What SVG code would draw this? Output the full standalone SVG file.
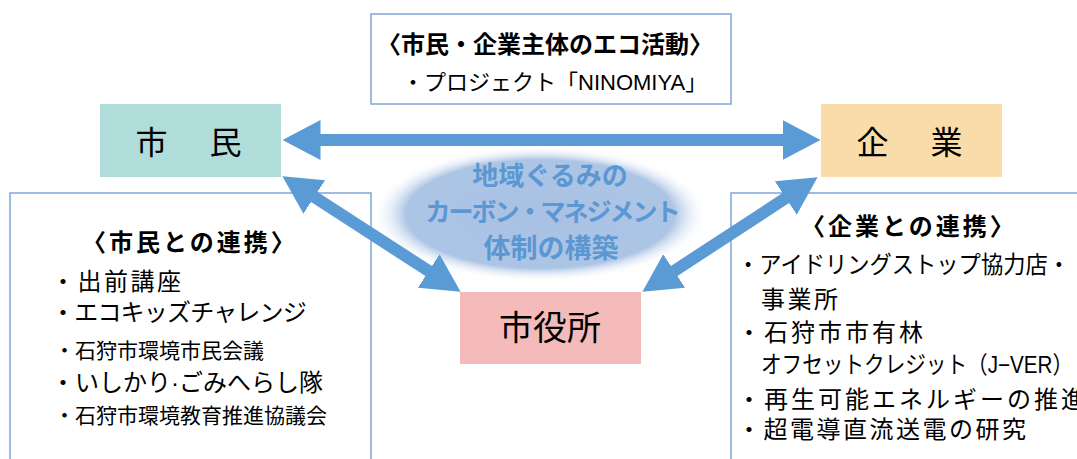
<svg xmlns="http://www.w3.org/2000/svg" width="1077" height="459" viewBox="0 0 1077 459">
<defs>
<style>
.frame{fill:none;stroke:#7fa6da;stroke-width:1.5}
.t{font-family:"Liberation Sans","Noto Sans CJK JP",sans-serif;fill:#000}
.b{font-weight:bold}
.glow{font-family:"Noto Sans CJK JP",sans-serif;font-weight:bold;fill:#5a97d3;text-anchor:middle}
.conn{stroke:#5b9bd5;stroke-width:12;fill:none;marker-start:url(#ah);marker-end:url(#ah)}
.node{font-family:"Noto Sans CJK JP",sans-serif;fill:#000;text-anchor:middle}
</style>
<marker id="ah" markerUnits="userSpaceOnUse" viewBox="0 0 38 40" markerWidth="38" markerHeight="40" refX="0.5" refY="20" orient="auto-start-reverse">
<path d="M0,0 L38,20 L0,40 Z" fill="#5b9bd5"/>
</marker>
<radialGradient id="g" cx="0.5" cy="0.5" r="0.5">
<stop offset="0" stop-color="#a8c0e3"/>
<stop offset="0.8" stop-color="#adc5e5"/>
<stop offset="1" stop-color="#ffffff" stop-opacity="0"/>
</radialGradient>
</defs>
<rect width="1077" height="459" fill="#fff"/>

<g id="box-eco">
<rect class="frame" x="371" y="14" width="360" height="90"/>
<text class="t b" x="545" y="53" font-size="24" text-anchor="middle" font-family="Noto Sans CJK JP, sans-serif">〈市民・企業主体のエコ活動〉</text>
<text class="t" x="402" y="90" font-size="22">・プロジェクト「NINOMIYA」</text>
</g>

<g id="box-citizen-links">
<path class="frame" d="M10,460 V193 H371 V460"/>
<text class="t b" x="190" y="251" font-size="24" letter-spacing="3" text-anchor="middle">〈市民との連携〉</text>
<text class="t" x="51" y="290" font-size="24" letter-spacing="2.5">・出前講座</text>
<text class="t" x="51" y="321" font-size="24" letter-spacing="-0.8">・エコキッズチャレンジ</text>
<text class="t" x="54" y="358" font-size="21">・石狩市環境市民会議</text>
<text class="t" x="51" y="391" font-size="24">・いしかり·ごみへらし隊</text>
<text class="t" x="54" y="423" font-size="21">・石狩市環境教育推進協議会</text>
</g>

<g id="box-company-links">
<path class="frame" d="M731,460 V193 H1080"/>
<text class="t b" x="909" y="235" font-size="24" letter-spacing="3" text-anchor="middle">〈企業との連携〉</text>
<text class="t" x="737" y="273" font-size="24" textLength="333" lengthAdjust="spacingAndGlyphs">・アイドリングストップ協力店・</text>
<text class="t" x="761" y="308" font-size="24" letter-spacing="2.5">事業所</text>
<text class="t" x="737" y="341" font-size="24" letter-spacing="3">・石狩市市有林</text>
<text class="t" x="761" y="373" font-size="24" textLength="312" lengthAdjust="spacingAndGlyphs">オフセットクレジット（J−VER）</text>
<text class="t" x="737" y="408" font-size="24" letter-spacing="3">・再生可能エネルギーの推進</text>
<text class="t" x="737" y="438" font-size="24" letter-spacing="2.5">・超電導直流送電の研究</text>
</g>

<g id="glow-center">
<ellipse cx="540" cy="214" rx="168" ry="68" fill="url(#g)"/>
<text class="glow" x="550" y="185" font-size="26">地域ぐるみの</text>
<text class="glow" x="552" y="221" font-size="25" letter-spacing="-2">カーボン・マネジメント</text>
<text class="glow" x="551" y="258" font-size="27">体制の構築</text>
</g>

<g id="node-citizen">
<rect x="100" y="104" width="181" height="73" fill="#b0dcd9"/>
<text class="node" x="191" y="154" font-size="32" letter-spacing="5">市　民</text>
</g>

<g id="node-company">
<rect x="821" y="104" width="181" height="73" fill="#fadcaa"/>
<text class="node" x="912" y="154" font-size="32" letter-spacing="5">企　業</text>
</g>

<g id="node-cityhall">
<rect x="460" y="292" width="181" height="72" fill="#f4bbba"/>
<text class="node" x="550" y="340" font-size="34">市役所</text>
</g>

<g id="connectors">
<line class="conn" x1="320" y1="140" x2="783" y2="140"/>
<line class="conn" x1="313.9" y1="196.7" x2="429.1" y2="271.3"/>
<line class="conn" x1="673.8" y1="271.2" x2="786.2" y2="197.8"/>
</g>
</svg>
